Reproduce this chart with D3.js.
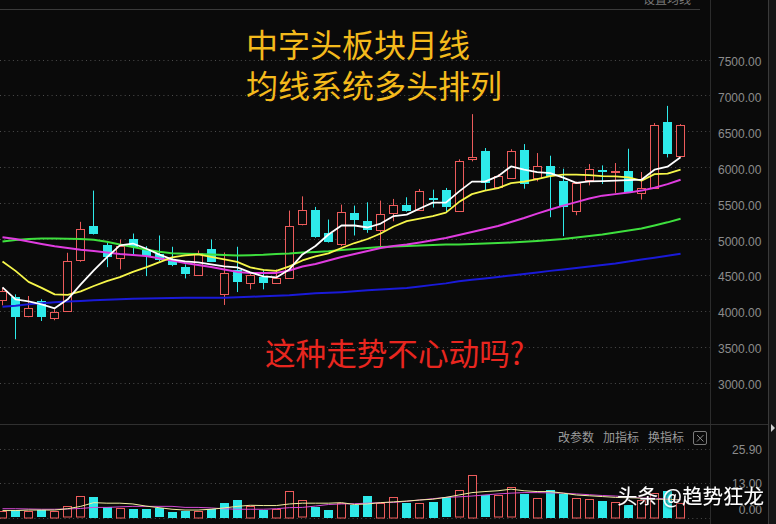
<!DOCTYPE html>
<html>
<head>
<meta charset="utf-8">
<script src="https://cdn.jsdelivr.net/npm/d3@7"></script>
<style>
html,body{margin:0;padding:0;background:#0a0a0a;overflow:hidden}
svg{display:block}
</style>
</head>
<body>
<svg id="chart" width="776" height="524"></svg>
<script>
// Monthly K-line of the sector: open / close / high / low per bar
const candleOpen  = [4146,4192,3928,4136,3906,3997,4715,5188,4910,4739,5003,4840,4785,4701,4608,4507,4864,4239,4563,4378,4469,4392,4469,5211,5410,5086,4938,5364,5257,5132,5364,5479,5410,5568,5678,5396,6104,6229,5725,5850,6243,5850,6011,5812,5386,5826,5955,5935,5951,5642,5711,6628,6160];
const candleClose = [4271,3914,4044,3914,3983,4697,5142,5076,4739,4900,4890,4761,4701,4632,4507,4808,4683,4531,4400,4493,4382,4461,5188,5410,5039,4956,5378,5261,5132,5350,5469,5396,5674,5550,5447,6090,6136,5781,5872,6229,5767,6011,5872,5447,5781,5979,5940,5945,5656,5711,6590,6183,6590];
const candleHigh  = [4320,4229,4206,4160,4021,4808,5239,5674,4950,4993,5076,4900,5049,4892,4646,4840,4993,4812,4892,4510,4576,4576,5396,5594,5447,5271,5479,5465,5511,5535,5558,5581,5697,5687,5711,6110,6739,6267,5900,6250,6322,6197,6160,5979,5800,6044,6025,6058,6257,5933,6614,6854,6600];
const candleLow   = [4076,3604,3910,3858,3868,3990,4683,5062,4608,4576,4785,4483,4692,4622,4451,4500,4680,4081,4261,4299,4299,4380,4461,5190,5017,4950,4900,5049,5086,4900,5247,5380,5400,5438,5372,5380,6081,5674,5700,5840,5701,5803,5303,5039,5331,5747,5767,5642,5650,5549,5700,6136,6150];

// Moving averages as shown on the terminal
const ma5  = [4326,4160,4132,4090,4035,4160,4368,4562,4743,4910,4937,4868,4785,4715,4688,4674,4646,4618,4604,4535,4479,4465,4576,4785,4903,5062,5188,5188,5160,5215,5320,5340,5424,5507,5507,5660,5799,5799,5875,6011,5965,5930,5917,5854,5781,5803,5806,5812,5819,5826,5965,6007,6139];
const ma10 = [4688,4556,4403,4320,4229,4222,4271,4345,4414,4469,4542,4604,4674,4743,4771,4785,4750,4715,4681,4604,4569,4556,4618,4701,4757,4799,4875,4944,5000,5076,5174,5250,5285,5320,5368,5514,5625,5674,5708,5778,5799,5833,5875,5896,5896,5889,5875,5872,5858,5812,5903,5910,5965];
const ma20 = [5025,5000,4965,4931,4900,4875,4850,4833,4812,4792,4778,4764,4733,4701,4667,4639,4611,4576,4542,4528,4528,4528,4562,4618,4653,4701,4750,4792,4833,4875,4903,4924,4951,4982,5014,5056,5097,5139,5181,5236,5292,5354,5410,5465,5514,5563,5604,5625,5646,5674,5715,5764,5826];
const ma30 = [4965,4986,5000,5007,5007,5004,5000,4990,4961,4924,4889,4854,4822,4803,4796,4792,4785,4778,4771,4775,4781,4792,4799,4812,4819,4829,4847,4861,4875,4889,4896,4903,4910,4917,4924,4924,4931,4938,4944,4951,4961,4972,4986,5000,5021,5042,5062,5090,5118,5146,5188,5232,5281];
const ma60 = [4056,4069,4090,4104,4118,4128,4136,4146,4153,4160,4167,4171,4174,4178,4181,4183,4183,4183,4188,4195,4201,4208,4215,4229,4243,4253,4260,4271,4285,4296,4306,4319,4340,4361,4382,4410,4431,4451,4472,4493,4514,4535,4556,4576,4597,4618,4639,4660,4688,4715,4740,4767,4795];

// Volume pane
const volume = [2.6,2.8,2.6,2.8,2.6,4.3,8.1,7.85,4.06,3.7,3.4,3.4,3.55,2.3,2.7,2.7,3.4,5.6,6.7,4.4,2.9,3.4,10.1,6.6,3.9,2.9,5.7,4.7,8.1,5.5,8.0,5.7,5.7,6.1,7.7,10.4,16.1,8.5,8.5,11.5,9.0,7.4,10.5,9.0,7.4,7.1,6.4,6.1,4.8,6.7,9.3,10.1,5.5];
const volMa5  = [2.7,2.7,2.9,2.9,2.9,3.4,4.3,5.7,5.5,5.5,5.2,4.4,3.8,3.2,2.9,2.9,3.2,3.7,4.3,4.7,4.6,4.6,5.2,5.5,5.5,5.5,5.7,5.0,5.2,5.7,6.0,6.3,6.7,7.0,7.7,8.6,9.5,9.9,10.2,10.8,10.2,9.9,9.9,9.3,8.6,8.3,8.0,7.7,7.5,7.4,7.0,7.0,6.7];
const volMa10 = [3.4,3.4,3.3,3.2,3.2,3.3,3.5,3.9,3.9,4.1,4.3,4.3,4.3,4.3,3.9,3.9,3.7,3.4,3.2,3.2,3.2,3.4,3.8,3.9,4.4,5.0,5.2,5.3,5.5,5.7,5.8,6.2,6.7,7.2,7.7,7.9,8.2,8.6,9.0,9.3,9.5,9.5,9.4,9.3,9.0,8.7,8.4,8.2,7.9,7.5,7.4,7.0,6.7];

// Axis labels
const priceTicks = [3000,3500,4000,4500,5000,5500,6000,6500,7000,7500];
const volTicks = [0,13,25.9];
const titleLines = ["中字头板块月线","均线系统多头排列"];
const question = "这种走势不心动吗?";
const toolLabels = ["改参数","加指标","换指标"];
const watermark = "头条 @趋势狂龙";

const W = 776, H = 524;
const BG = "#0a0a0a", UP = "#ec5b5b", DOWN = "#2eeaea";
const svg = d3.select("#chart");

svg.append("rect").attr("width", W).attr("height", H).attr("fill", BG);

const n = candleOpen.length;
const x = d3.scaleBand().domain(d3.range(n)).range([-4.02, 687.1])
  .paddingInner(0.34).paddingOuter(0.17);
const left = i => Math.round(x(i));
const cx = i => x(i) + x.bandwidth() / 2;
const y = d3.scaleLinear().domain([3000, 7500]).range([382.6, 59.5]);
const yv = d3.scaleLinear().domain([0, 25.9]).range([517.7, 449.3]);

// frame lines
svg.append("line").attr("x1", 0).attr("x2", 700).attr("y1", 9.5).attr("y2", 9.5).attr("stroke", "#3a3a3a");
svg.append("line").attr("x1", 710.5).attr("x2", 710.5).attr("y1", 0).attr("y2", H).attr("stroke", "#2c2c2c");
svg.append("line").attr("x1", 0).attr("x2", 768).attr("y1", 424.5).attr("y2", 424.5).attr("stroke", "#303030");
svg.append("rect").attr("x", 768).attr("y", 0).attr("width", 8).attr("height", H).attr("fill", "#161616");
svg.append("line").attr("x1", 768.5).attr("x2", 768.5).attr("y1", 0).attr("y2", H).attr("stroke", "#3a3a3a");
svg.append("path").attr("d", "M771,424 L775,428 L771,432 Z").attr("fill", "#cfcfcf");

// partially visible toolbar caption at the top edge
svg.append("text").attr("x", 643).attr("y", 3.5).attr("fill", "#7a7a7a")
  .attr("font-family", "Noto Sans CJK SC").attr("font-size", 12).text("设置均线");

// dotted grid
const grid = svg.append("g").attr("stroke", "#4d4d4d").attr("stroke-dasharray", "1 3.3");
priceTicks.forEach(v => {
  const yy = Math.round(y(v)) + 0.5;
  grid.append("line").attr("x1", 0).attr("x2", 710).attr("y1", yy).attr("y2", yy);
});
volTicks.forEach(v => {
  const yy = Math.round(yv(v)) + 0.5;
  grid.append("line").attr("x1", 0).attr("x2", 710).attr("y1", yy).attr("y2", yy);
});

// price axis
const pAxis = svg.append("g").attr("transform", "translate(710,0)")
  .call(d3.axisRight(y).tickValues(priceTicks).tickFormat(d3.format(".2f")).tickSize(0).tickPadding(8));
pAxis.select(".domain").remove();
pAxis.selectAll("text").attr("fill", "#8c8c8c").attr("dy", "0.5em")
  .attr("font-family", "Liberation Sans, Arial, sans-serif").attr("font-size", 12);

// volume axis
const vAxis = svg.append("g").attr("transform", "translate(710,0)")
  .call(d3.axisRight(yv).tickValues(volTicks).tickFormat(d3.format(".2f")).tickSize(0).tickPadding(52));
vAxis.select(".domain").remove();
vAxis.selectAll("text").attr("fill", "#8c8c8c").attr("text-anchor", "end")
  .attr("font-family", "Liberation Sans, Arial, sans-serif").attr("font-size", 12);
vAxis.selectAll(".tick").filter(d => d === 0).attr("transform", "translate(0,510)");

// candles
const candles = svg.append("g");
d3.range(n).forEach(i => {
  const o = candleOpen[i], c = candleClose[i];
  const up = c >= o;
  const col = up ? UP : DOWN;
  const l = left(i);
  candles.append("line").attr("x1", l + 4.5).attr("x2", l + 4.5)
    .attr("y1", y(candleHigh[i])).attr("y2", y(candleLow[i])).attr("stroke", col);
  const top = y(Math.max(o, c)), bot = y(Math.min(o, c));
  if (up) {
    candles.append("rect").attr("x", l + 0.5).attr("width", 8)
      .attr("y", Math.round(top) + 0.5).attr("height", Math.max(1, Math.round(bot - top)))
      .attr("fill", BG).attr("stroke", col);
  } else {
    candles.append("rect").attr("x", l).attr("width", 9)
      .attr("y", Math.round(top)).attr("height", Math.max(2, Math.round(bot - top)))
      .attr("fill", col);
  }
});

// moving average lines
const maLine = d3.line().x((d, i) => cx(i)).y(d => y(d));
[[ma60, "#1a1ad8", 2], [ma30, "#3ee03e", 2], [ma20, "#e03ce0", 2], [ma10, "#f6f64a", 1.8], [ma5, "#ffffff", 1.8]]
  .forEach(([data, color, w]) => {
    svg.append("path").datum(data).attr("d", maLine).attr("fill", "none")
      .attr("stroke", color).attr("stroke-width", w).attr("stroke-linejoin", "round");
  });

// volume bars, coloured by change against the previous close
const vols = svg.append("g");
d3.range(n).forEach(i => {
  const up = i === 0 ? candleClose[i] >= candleOpen[i] : candleClose[i] >= candleClose[i - 1];
  const l = left(i);
  const top = yv(volume[i]), base = yv(0);
  if (up) {
    vols.append("rect").attr("x", l + 0.5).attr("width", 8)
      .attr("y", Math.round(top) + 0.5).attr("height", Math.round(base - top) - 0.5)
      .attr("fill", BG).attr("stroke", UP);
  } else {
    vols.append("rect").attr("x", l).attr("width", 9)
      .attr("y", Math.round(top)).attr("height", Math.round(base - top))
      .attr("fill", DOWN);
  }
});
const vLine = d3.line().x((d, i) => cx(i)).y(d => yv(d));
svg.append("path").datum(volMa10).attr("d", vLine).attr("fill", "none").attr("stroke", "#d64bd6").attr("stroke-width", 1);
svg.append("path").datum(volMa5).attr("d", vLine).attr("fill", "none").attr("stroke", "#f2f0a0").attr("stroke-width", 1);

// volume pane tools
const tools = svg.append("g").attr("font-family", "Noto Sans CJK SC").attr("font-size", 12).attr("fill", "#9a9a9a");
[558, 603, 648].forEach((xx, k) => {
  tools.append("text").attr("x", xx).attr("y", 441.5).text(toolLabels[k]);
});
svg.append("rect").attr("x", 693.5).attr("y", 431.5).attr("width", 13).attr("height", 13).attr("rx", 1.5)
  .attr("fill", "none").attr("stroke", "#7a7a7a");
svg.append("path").attr("d", "M697,435 L703.5,441.5 M703.5,435 L697,441.5").attr("stroke", "#8a8a8a");

// headline text
const title = svg.append("g").attr("font-family", "Noto Sans CJK SC").attr("font-size", 32).attr("fill", "#f4ba1c");
titleLines.forEach((t, k) => {
  title.append("text").attr("x", 246).attr("y", 57 + k * 41).text(t);
});
svg.append("text").attr("x", 265).attr("y", 365).attr("font-family", "Noto Sans CJK SC")
  .attr("font-size", 30.6).attr("fill", "#e8261f").text(question);

// source mark
const defs = svg.append("defs");
defs.append("filter").attr("id", "shadow").append("feDropShadow")
  .attr("dx", 1).attr("dy", 1).attr("stdDeviation", 1).attr("flood-color", "#000").attr("flood-opacity", 0.8);
svg.append("text").attr("x", 617).attr("y", 504).attr("font-family", "Noto Sans CJK SC")
  .attr("font-size", 20.5).attr("fill", "#ffffff").attr("filter", "url(#shadow)").text(watermark);
</script>
</body>
</html>
